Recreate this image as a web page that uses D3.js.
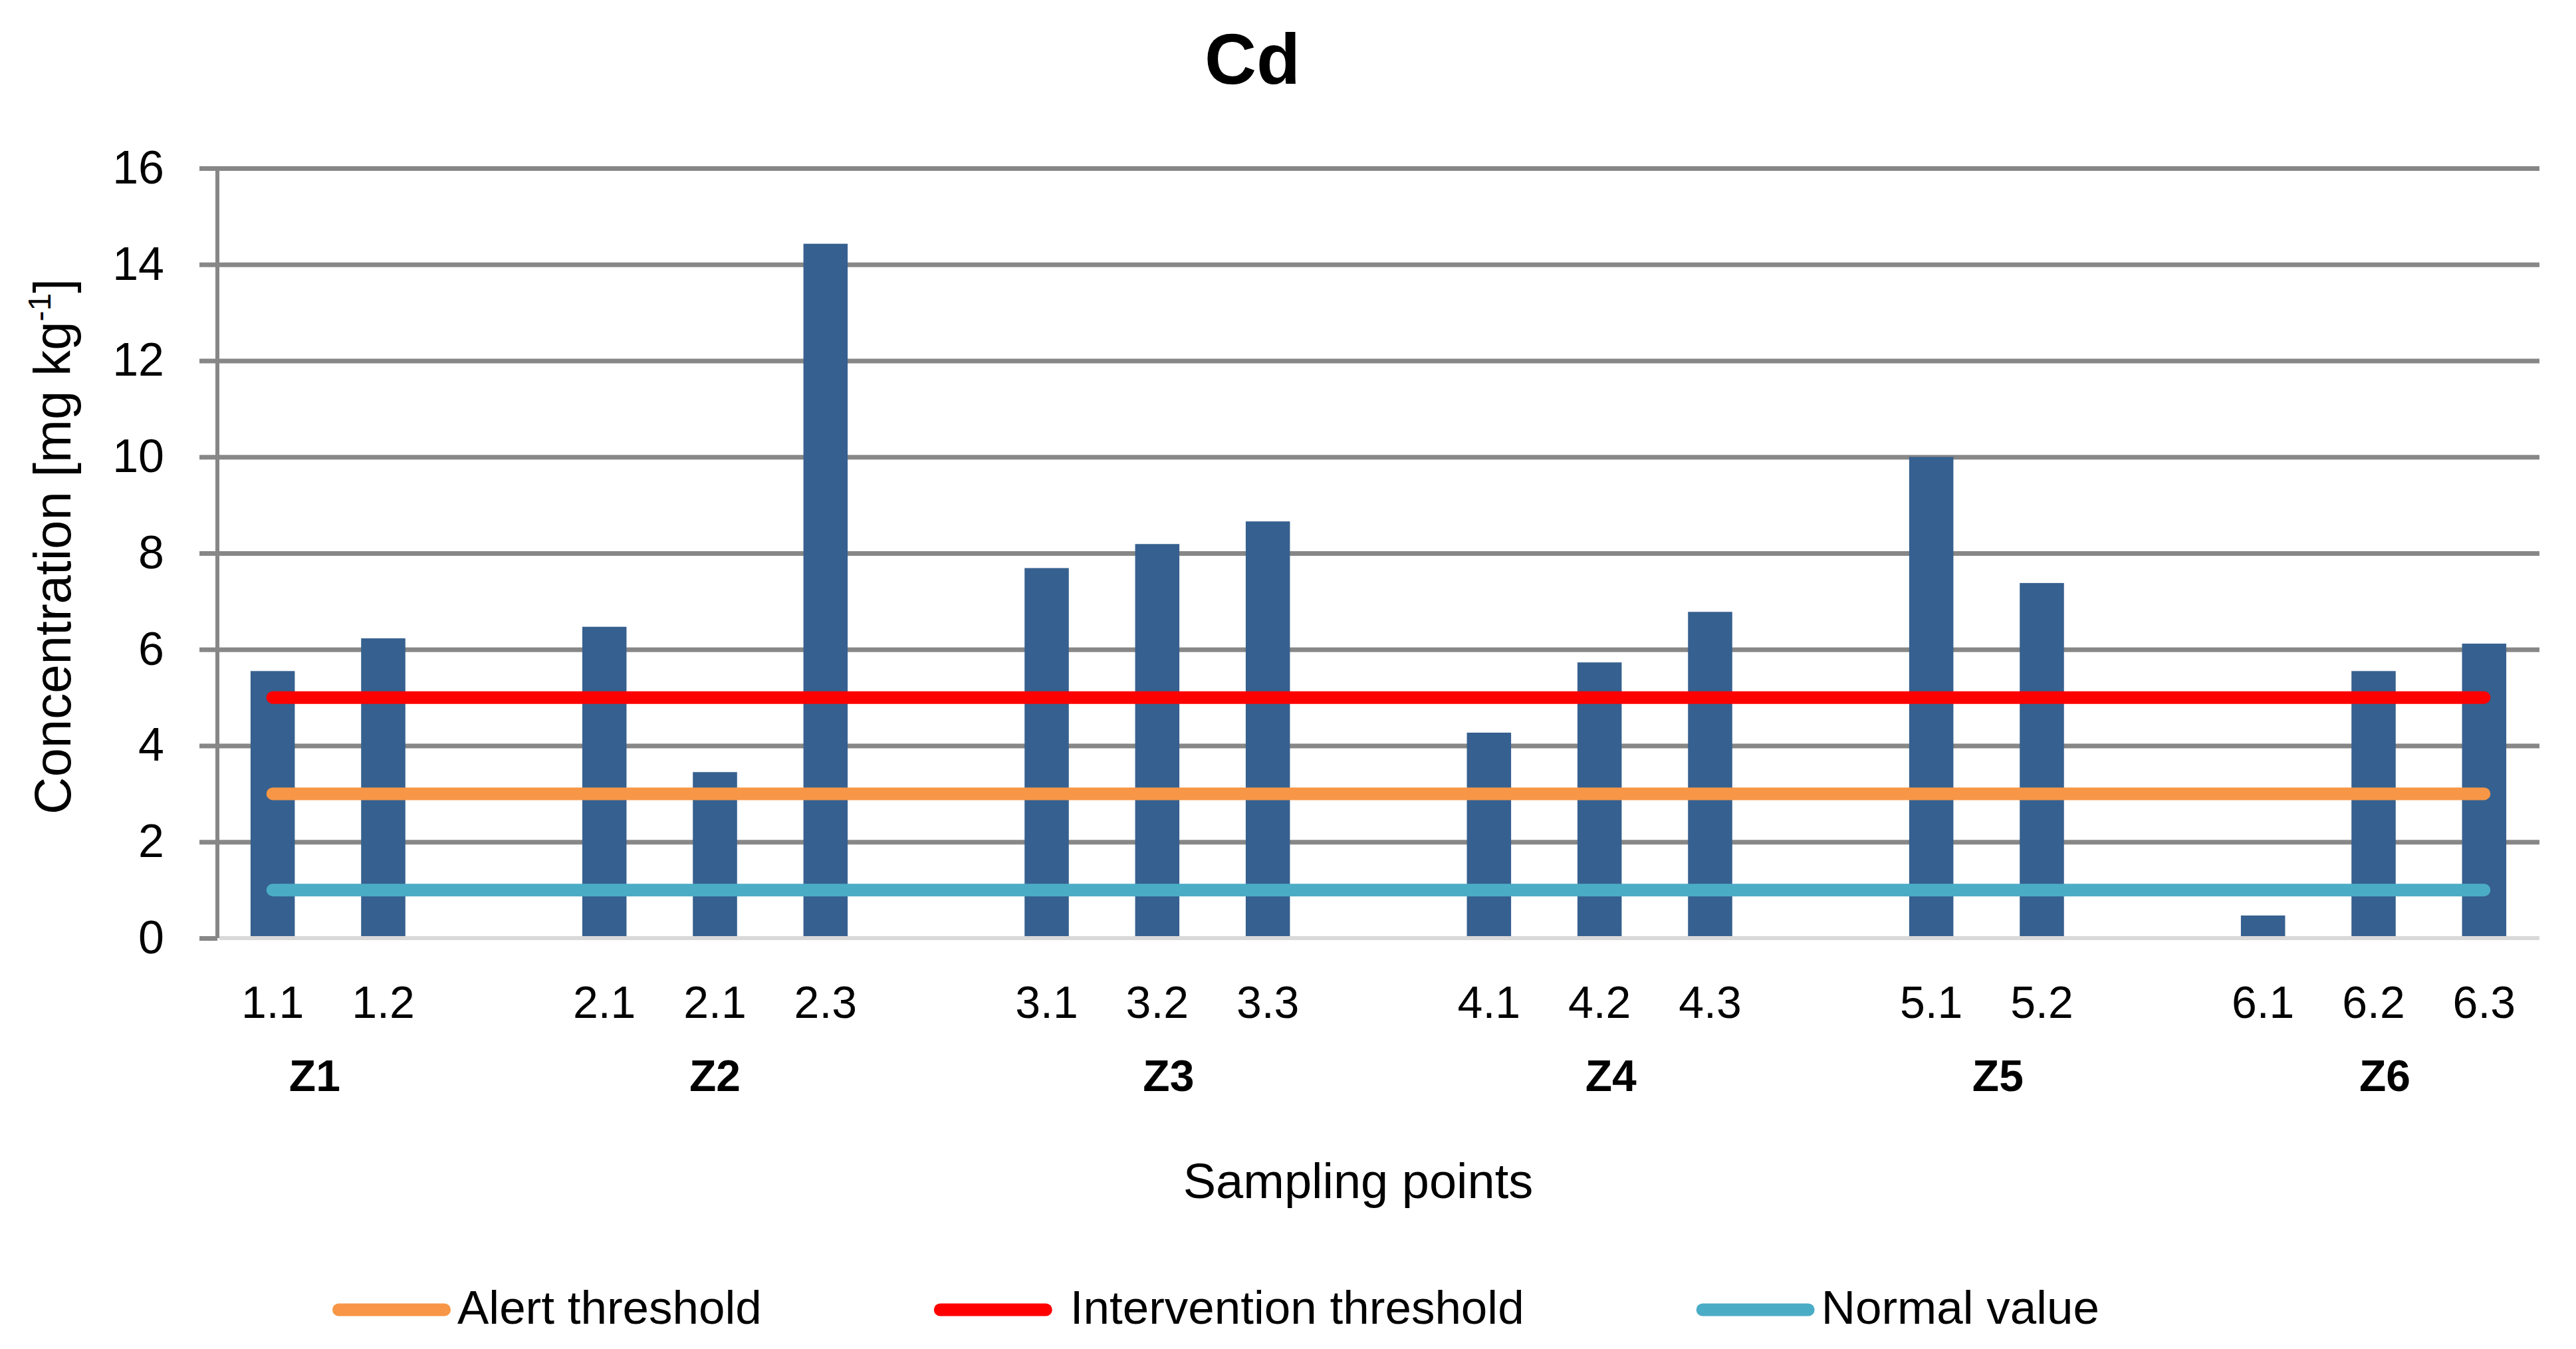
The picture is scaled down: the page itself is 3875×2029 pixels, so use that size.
<!DOCTYPE html>
<html>
<head>
<meta charset="utf-8">
<script src="https://cdn.jsdelivr.net/npm/d3@7"></script>
<style>
  html, body { margin: 0; padding: 0; background: #ffffff; }
  svg { display: block; font-family: 'Liberation Sans', Arial, sans-serif; }
</style>
</head>
<body>
<script>
// ---------- data ----------
const categories = ["1.1","1.2","","2.1","2.1","2.3","","3.1","3.2","3.3","","4.1","4.2","4.3","","5.1","5.2","","6.1","6.2","6.3"];
const values     = [5.55, 6.23, null, 6.47, 3.45, 14.43, null, 7.69, 8.19, 8.66, null, 4.27, 5.73, 6.78, null, 10.0, 7.38, null, 0.47, 5.55, 6.12];
const zoneOf     = [0, 0, null, 1, 1, 1, null, 2, 2, 2, null, 3, 3, 3, null, 4, 4, null, 5, 5, 5];
const zones      = ["Z1","Z2","Z3","Z4","Z5","Z6"];
const thresholdNames  = ["Alert threshold", "Intervention threshold", "Normal value"];
const thresholdValues = [3, 5, 1];
const thresholdColors = ["#F79646", "#FF0000", "#4BACC6"];
const yTicks = [0, 2, 4, 6, 8, 10, 12, 14, 16];
const title = "Cd";
const xTitle = "Sampling points";

// ---------- layout ----------
const W = 3875, H = 2029;
const L = 327, R = 3820, T = 253, B = 1411;
const barColor = "#36608F";
const gridColor = "#878787";

const svg = d3.select("body").append("svg").attr("width", W).attr("height", H);
svg.append("rect").attr("width", W).attr("height", H).attr("fill", "#fff");

const x = d3.scaleBand().domain(d3.range(categories.length)).range([L, R]).padding(0);
const y = d3.scaleLinear().domain([0, 16]).range([B, T]);
const bw = x.bandwidth();
const cx = i => x(i) + bw / 2;

// gridlines
const grid = svg.append("g").attr("transform", `translate(${L},0)`)
  .call(d3.axisRight(y).tickValues(yTicks.filter(v => v > 0)).tickSize(R - L).tickFormat(""));
grid.select(".domain").remove();
grid.selectAll("line").attr("stroke", gridColor).attr("stroke-width", 7);

// y axis ticks + labels
const yAxis = svg.append("g").attr("transform", `translate(${L},0)`)
  .call(d3.axisLeft(y).tickValues(yTicks).tickSize(27).tickPadding(53));
yAxis.select(".domain").remove();
yAxis.selectAll("line").attr("stroke", gridColor).attr("stroke-width", 7);
yAxis.selectAll("text").attr("font-size", 70).attr("fill", "#000")
  .attr("font-family", "'Liberation Sans', Arial, sans-serif");

// vertical axis line
svg.append("line").attr("x1", L).attr("x2", L).attr("y1", y(16) - 3).attr("y2", y(0))
  .attr("stroke", gridColor).attr("stroke-width", 6);

// bars
svg.append("g").selectAll("rect")
  .data(values.map((v, i) => ({ v, i })).filter(d => d.v != null))
  .join("rect")
  .attr("x", d => x(d.i) + bw * 0.3)
  .attr("width", bw * 0.4)
  .attr("y", d => y(d.v))
  .attr("height", d => y(0) - y(d.v))
  .attr("fill", barColor);

// zero baseline
svg.append("line").attr("x1", L + 3).attr("x2", R).attr("y1", y(0)).attr("y2", y(0))
  .attr("stroke", "#D9D9D9").attr("stroke-width", 6);

// threshold lines
const lineGen = d3.line().x(d => d[0]).y(d => d[1]);
thresholdValues.forEach((v, k) => {
  svg.append("path")
    .attr("d", lineGen([[cx(0), y(v)], [cx(categories.length - 1), y(v)]]))
    .attr("stroke", thresholdColors[k]).attr("stroke-width", 19)
    .attr("stroke-linecap", "round").attr("fill", "none");
});

// category labels
svg.append("g").selectAll("text")
  .data(categories.map((c, i) => ({ c, i })).filter(d => d.c !== ""))
  .join("text")
  .attr("x", d => cx(d.i)).attr("y", 1531)
  .attr("text-anchor", "middle").attr("font-size", 68).attr("fill", "#000")
  .text(d => d.c);

// zone labels (Excel multi-level labels sit slightly right of group centre, first one slightly left)
zones.forEach((z, k) => {
  const idx = zoneOf.map((g, i) => g === k ? i : -1).filter(i => i >= 0);
  const center = (cx(idx[0]) + cx(idx[idx.length - 1])) / 2;
  const shift = k === 0 ? -20 : (k === 1 ? 0 : 17);
  svg.append("text").attr("x", center + shift).attr("y", 1641)
    .attr("text-anchor", "middle").attr("font-size", 66).attr("font-weight", "bold")
    .attr("fill", "#000").text(z);
});

// title
svg.append("text").attr("x", 1884).attr("y", 126)
  .attr("text-anchor", "middle").attr("font-size", 108).attr("font-weight", "bold")
  .attr("font-family", "'Liberation Sans Narrow', 'Liberation Sans', Arial, sans-serif")
  .attr("fill", "#000").text(title);

// x axis title
svg.append("text").attr("x", 2043).attr("y", 1802)
  .attr("text-anchor", "middle").attr("font-size", 74).attr("fill", "#000").text(xTitle);

// y axis title
const yt = svg.append("text")
  .attr("transform", `translate(106,822) rotate(-90)`)
  .attr("text-anchor", "middle").attr("font-size", 78).attr("fill", "#000");
yt.append("tspan").text("Concentration [mg kg");
yt.append("tspan").attr("dy", -30).attr("font-size", 48).text("-1");
yt.append("tspan").attr("dy", 30).text("]");

// legend
let lx = 500;
const ly = 1970;
const textGap = [10, 27, 10];
thresholdNames.forEach((name, k) => {
  svg.append("line").attr("x1", lx + 9.5).attr("x2", lx + 178 - 9.5)
    .attr("y1", ly).attr("y2", ly)
    .attr("stroke", thresholdColors[k]).attr("stroke-width", 19).attr("stroke-linecap", "round");
  const t = svg.append("text").attr("x", lx + 178 + textGap[k]).attr("y", 1991)
    .attr("font-size", 71).attr("fill", "#000").text(name);
  const tw = t.node().getComputedTextLength();
  lx = lx + 178 + textGap[k] + tw + 259;
});
</script>
</body>
</html>
